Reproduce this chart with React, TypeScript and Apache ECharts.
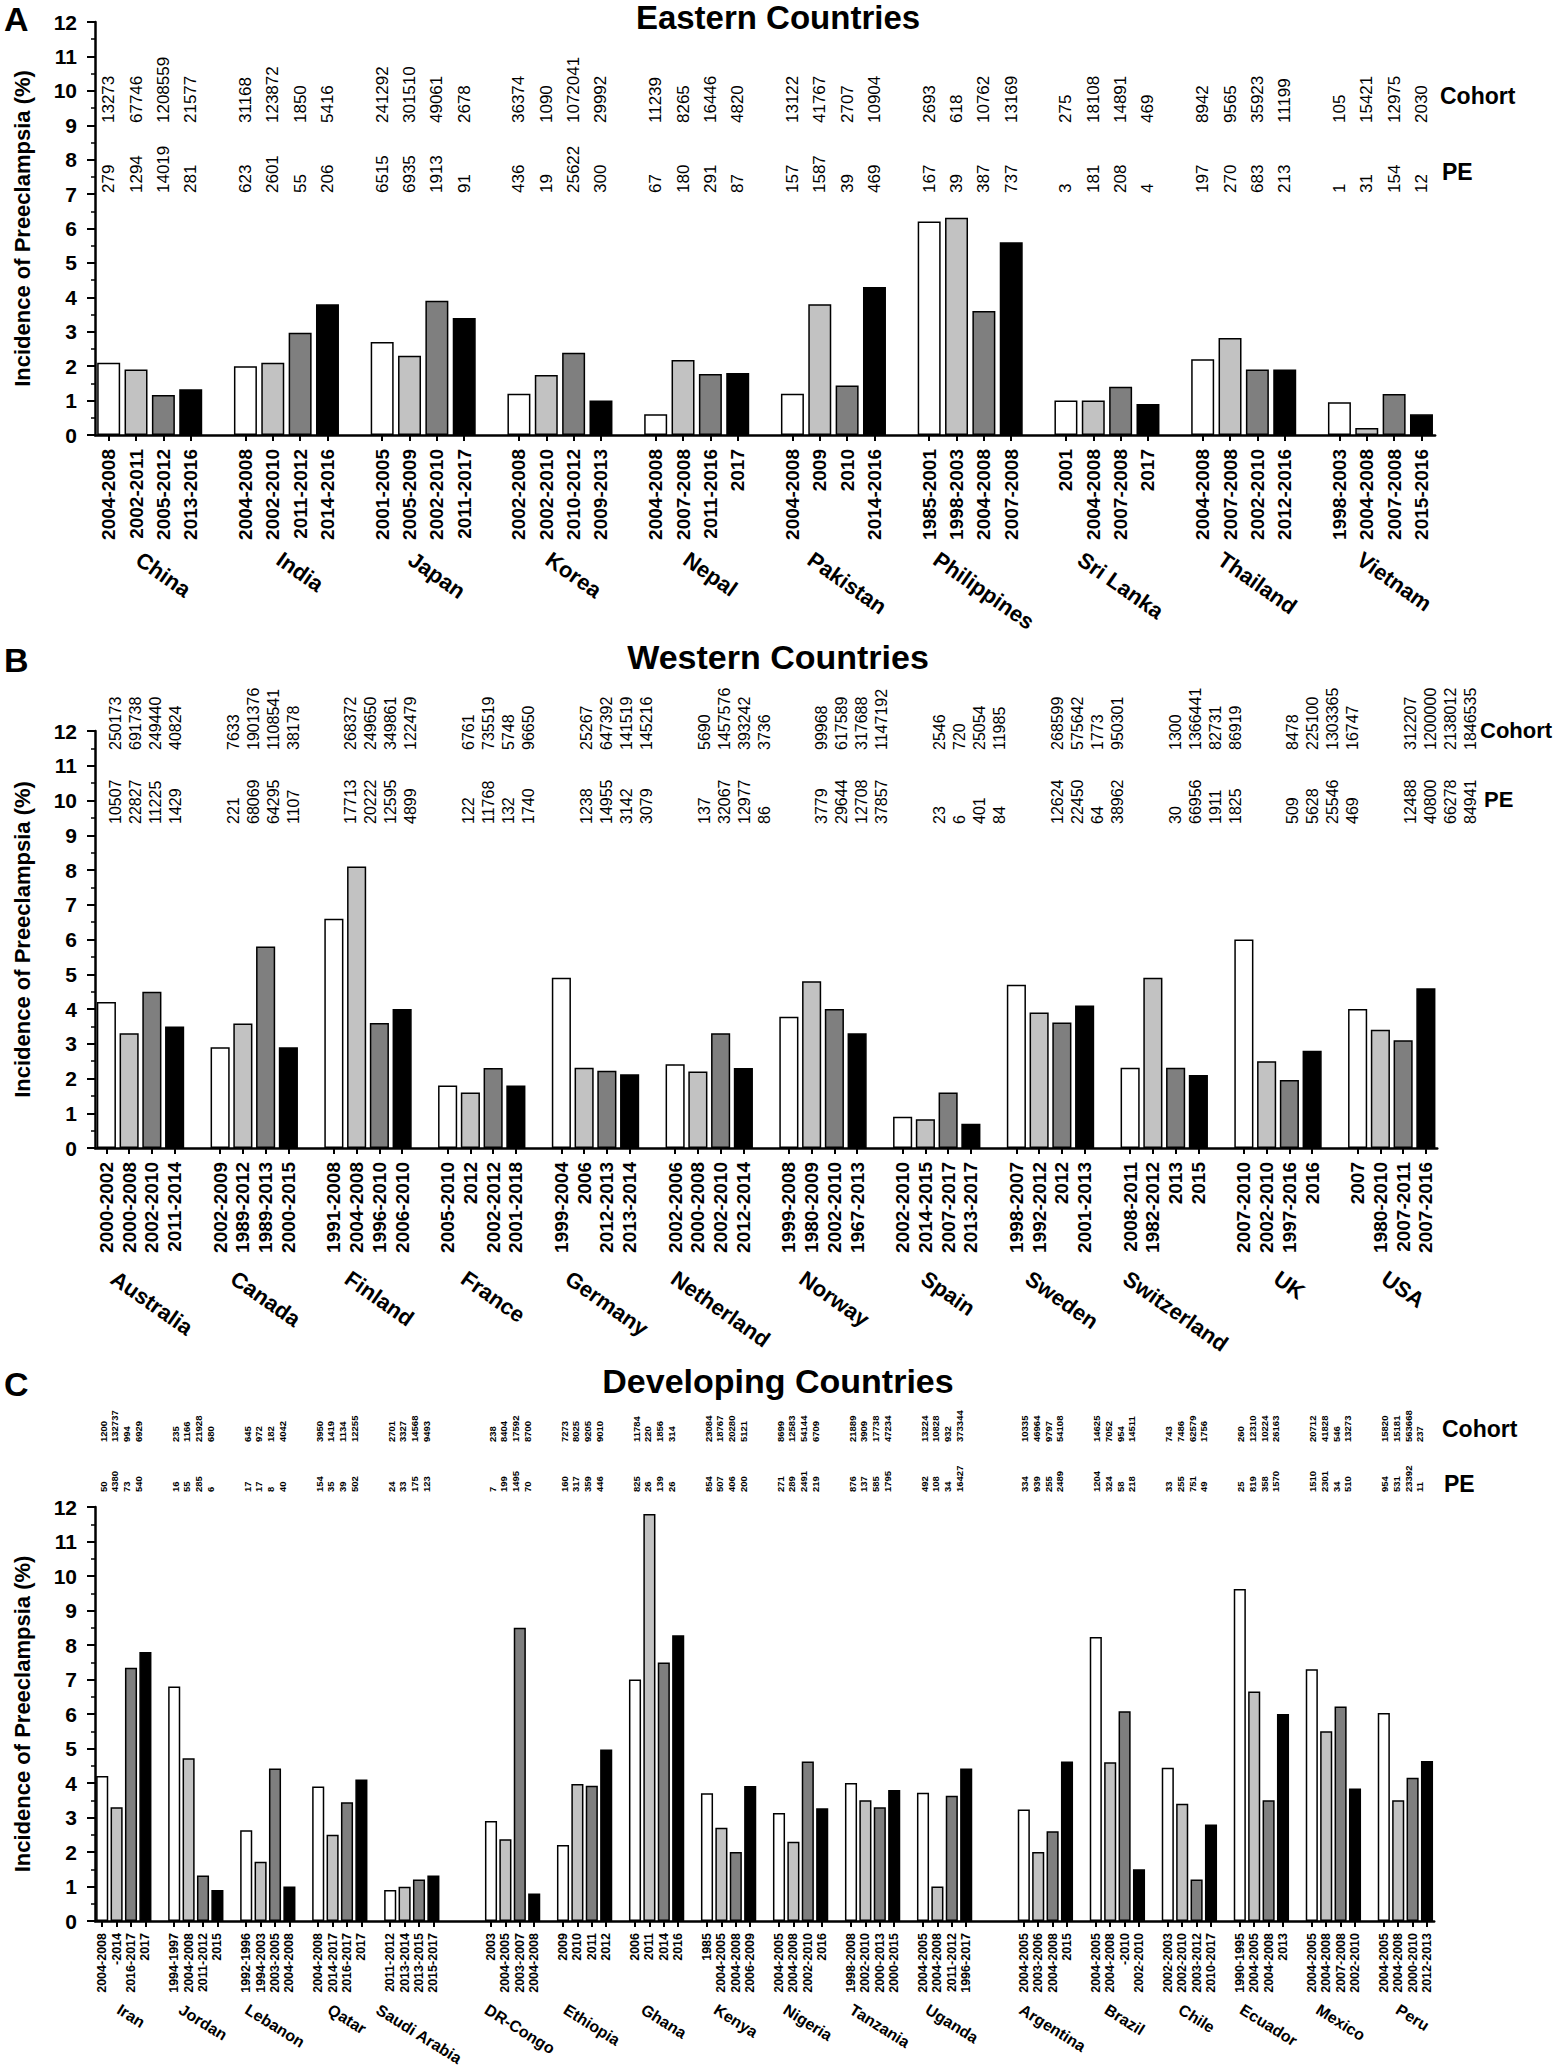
import React, { useEffect, useRef } from "react";
import * as echarts from "echarts";

const FONT = "'Liberation Sans', Arial, Helvetica, sans-serif";

// ---------------- Panel A: Eastern countries ----------------
const eastCountries = ["China", "India", "Japan", "Korea", "Nepal", "Pakistan", "Philippines", "Sri Lanka", "Thailand", "Vietnam"];
const eastPeriods = [
  ["2004-2008", "2002-2011", "2005-2012", "2013-2016"],
  ["2004-2008", "2002-2010", "2011-2012", "2014-2016"],
  ["2001-2005", "2005-2009", "2002-2010", "2011-2017"],
  ["2002-2008", "2002-2010", "2010-2012", "2009-2013"],
  ["2004-2008", "2007-2008", "2011-2016", "2017"],
  ["2004-2008", "2009", "2010", "2014-2016"],
  ["1985-2001", "1998-2003", "2004-2008", "2007-2008"],
  ["2001", "2004-2008", "2007-2008", "2017"],
  ["2004-2008", "2007-2008", "2002-2010", "2012-2016"],
  ["1998-2003", "2004-2008", "2007-2008", "2015-2016"],
];
const eastIncidence = [
  [2.1, 1.9, 1.16, 1.33],
  [2.0, 2.1, 2.97, 3.8],
  [2.7, 2.3, 3.9, 3.4],
  [1.2, 1.74, 2.39, 1.0],
  [0.6, 2.18, 1.77, 1.8],
  [1.2, 3.8, 1.44, 4.3],
  [6.2, 6.31, 3.6, 5.6],
  [1.0, 1.0, 1.4, 0.9],
  [2.2, 2.82, 1.9, 1.9],
  [0.95, 0.2, 1.19, 0.6],
];
const eastCohort = [
  [13273, 67746, 1208559, 21577],
  [31168, 123872, 1850, 5416],
  [241292, 301510, 49061, 2678],
  [36374, 1090, 1072041, 29992],
  [11239, 8265, 16446, 4820],
  [13122, 41767, 2707, 10904],
  [2693, 618, 10762, 13169],
  [275, 18108, 14891, 469],
  [8942, 9565, 35923, 11199],
  [105, 15421, 12975, 2030],
];
const eastPE = [
  [279, 1294, 14019, 281],
  [623, 2601, 55, 206],
  [6515, 6935, 1913, 91],
  [436, 19, 25622, 300],
  [67, 180, 291, 87],
  [157, 1587, 39, 469],
  [167, 39, 387, 737],
  [3, 181, 208, 4],
  [197, 270, 683, 213],
  [1, 31, 154, 12],
];

// ---------------- Panel B: Western countries ----------------
const westCountries = ["Australia", "Canada", "Finland", "France", "Germany", "Netherland", "Norway", "Spain", "Sweden", "Switzerland", "UK", "USA"];
const westPeriods = [
  ["2000-2002", "2000-2008", "2002-2010", "2011-2014"],
  ["2002-2009", "1989-2012", "1989-2013", "2000-2015"],
  ["1991-2008", "2004-2008", "1996-2010", "2006-2010"],
  ["2005-2010", "2012", "2002-2012", "2001-2018"],
  ["1999-2004", "2006", "2012-2013", "2013-2014"],
  ["2002-2006", "2000-2008", "2002-2010", "2012-2014"],
  ["1999-2008", "1980-2009", "2002-2010", "1967-2013"],
  ["2002-2010", "2014-2015", "2007-2017", "2013-2017"],
  ["1998-2007", "1992-2012", "2012", "2001-2013"],
  ["2008-2011", "1982-2012", "2013", "2015"],
  ["2007-2010", "2002-2010", "1997-2016", "2016"],
  ["2007", "1980-2010", "2007-2011", "2007-2016"],
];
const westIncidence = [
  [4.2, 3.3, 4.5, 3.5],
  [2.9, 3.58, 5.8, 2.9],
  [6.6, 8.1, 3.6, 4.0],
  [1.8, 1.6, 2.3, 1.8],
  [4.9, 2.31, 2.22, 2.12],
  [2.41, 2.2, 3.3, 2.3],
  [3.78, 4.8, 4.0, 3.3],
  [0.9, 0.83, 1.6, 0.7],
  [4.7, 3.9, 3.61, 4.1],
  [2.31, 4.9, 2.31, 2.1],
  [6.0, 2.5, 1.96, 2.8],
  [4.0, 3.4, 3.1, 4.6],
];
const westCohort = [
  [250173, 691738, 249440, 40824],
  [7633, 1901376, 1108541, 38178],
  [268372, 249650, 349861, 122479],
  [6761, 735519, 5748, 96650],
  [25267, 647392, 141519, 145216],
  [5690, 1457576, 393242, 3736],
  [99968, 617589, 317688, 1147192],
  [2546, 720, 25054, 11985],
  [268599, 575642, 1773, 950301],
  [1300, 1366441, 82731, 86919],
  [8478, 225100, 1303365, 16747],
  [312207, 1200000, 2138012, 1846535],
];
const westPE = [
  [10507, 22827, 11225, 1429],
  [221, 68069, 64295, 1107],
  [17713, 20222, 12595, 4899],
  [122, 11768, 132, 1740],
  [1238, 14955, 3142, 3079],
  [137, 32067, 12977, 86],
  [3779, 29644, 12708, 37857],
  [23, 6, 401, 84],
  [12624, 22450, 64, 38962],
  [30, 66956, 1911, 1825],
  [509, 5628, 25546, 469],
  [12488, 40800, 66278, 84941],
];

// ---------------- Panel C: Developing countries ----------------
const devCountries = ["Iran", "Jordan", "Lebanon", "Qatar", "Saudi Arabia", "DR-Congo", "Ethiopia", "Ghana", "Kenya", "Nigeria", "Tanzania", "Uganda", "Argentina", "Brazil", "Chile", "Ecuador", "Mexico", "Peru"];
const devPeriods = [
  ["2004-2008", "-2014", "2016-2017", "2017"],
  ["1994-1997", "2004-2008", "2011-2012", "2015"],
  ["1992-1996", "1994-2003", "2003-2005", "2004-2008"],
  ["2004-2008", "2014-2017", "2016-2017", "2017"],
  ["2011-2012", "2013-2014", "2013-2015", "2015-2017"],
  ["2003", "2004-2005", "2003-2007", "2004-2008"],
  ["2009", "2010", "2011", "2012"],
  ["2006", "2011", "2014", "2016"],
  ["1985", "2004-2005", "2004-2008", "2006-2009"],
  ["2004-2005", "2004-2008", "2002-2010", "2016"],
  ["1998-2008", "2002-2010", "2000-2013", "2000-2015"],
  ["2004-2005", "2004-2008", "2011-2012", "1996-2017"],
  ["2004-2005", "2003-2006", "2004-2008", "2015"],
  ["2004-2005", "2004-2008", "-2010", "2002-2010"],
  ["2002-2003", "2002-2010", "2003-2012", "2010-2017"],
  ["1990-1995", "2004-2005", "2004-2008", "2013"],
  ["2004-2005", "2004-2008", "2007-2008", "2002-2010"],
  ["2004-2005", "2004-2008", "2000-2010", "2012-2013"],
];
const devIncidence = [
  [4.2, 3.3, 7.34, 7.8],
  [6.8, 4.72, 1.32, 0.9],
  [2.63, 1.72, 4.42, 1.0],
  [3.9, 2.5, 3.44, 4.1],
  [0.9, 0.99, 1.2, 1.32],
  [2.9, 2.37, 8.5, 0.8],
  [2.2, 3.97, 3.92, 4.97],
  [7.0, 11.8, 7.49, 8.28],
  [3.7, 2.7, 2.0, 3.91],
  [3.13, 2.3, 4.62, 3.27],
  [4.0, 3.5, 3.3, 3.8],
  [3.72, 1.0, 3.63, 4.42],
  [3.23, 2.0, 2.6, 4.62],
  [8.23, 4.6, 6.08, 1.5],
  [4.44, 3.4, 1.2, 2.8],
  [9.62, 6.65, 3.5, 6.0],
  [7.3, 5.5, 6.22, 3.84],
  [6.03, 3.5, 4.15, 4.64],
];
const devCohort = [
  [1200, 132737, 994, 6929],
  [235, 1166, 21928, 680],
  [645, 972, 182, 4042],
  [3950, 1419, 1134, 12255],
  [2701, 3327, 14568, 9493],
  [238, 8404, 17592, 8700],
  [7273, 8025, 9205, 9010],
  [11784, 220, 1856, 314],
  [23084, 18767, 20280, 5121],
  [8699, 12583, 54144, 6709],
  [21889, 3909, 17738, 47234],
  [13224, 10828, 932, 373344],
  [10335, 46964, 9797, 54108],
  [14625, 7052, 954, 14511],
  [743, 7486, 62579, 1756],
  [260, 12310, 10224, 26163],
  [20712, 41828, 546, 13273],
  [15820, 15181, 563668, 237],
];
const devPE = [
  [50, 4380, 73, 540],
  [16, 55, 285, 6],
  [17, 17, 8, 40],
  [154, 35, 39, 502],
  [24, 33, 175, 123],
  [7, 199, 1495, 70],
  [160, 317, 359, 446],
  [825, 26, 139, 26],
  [854, 507, 406, 200],
  [271, 289, 2491, 219],
  [876, 137, 585, 1795],
  [492, 108, 34, 16427],
  [334, 939, 255, 2489],
  [1204, 324, 58, 218],
  [33, 255, 751, 49],
  [25, 819, 358, 1570],
  [1510, 2301, 34, 510],
  [954, 531, 23392, 11],
];

const BAR_COLORS = ["#ffffff", "#c2c2c2", "#7f7f7f", "#000000"];
const Y_NAME = "Incidence of Preeclampsia (%)";

type Slot = { g: number; b: number } | null;

function buildSlots(n: number, extra: Record<number, number>) {
  const slots: Slot[] = [];
  const starts: number[] = [];
  for (let g = 0; g < n; g++) {
    starts.push(slots.length);
    for (let b = 0; b < 4; b++) slots.push({ g, b });
    if (g < n - 1) {
      const k = 1 + (extra[g] || 0);
      for (let i = 0; i < k; i++) slots.push(null);
    }
  }
  return { slots, starts };
}

const panels = [
  {
    letter: "A", title: "Eastern Countries",
    countries: eastCountries, periods: eastPeriods, values: eastIncidence, cohort: eastCohort, pe: eastPE,
    extra: {} as Record<number, number>,
    slotW: 27.35, top: 22, height: 413,
    yearFont: 19, yearMargin: 14,
    numFont: 17, numWeight: "normal", numMode: "bar", cohortY: 123, peY: 193,
    countryFont: 22, countryTop: 549, countryAngle: 35,
    letterY: 2, titleY: 17, titleSize: 33, labelSize: 23, cohortLabel: [1440, 96], peLabel: [1442, 172],
  },
  {
    letter: "B", title: "Western Countries",
    countries: westCountries, periods: westPeriods, values: westIncidence, cohort: westCohort, pe: westPE,
    extra: {} as Record<number, number>,
    slotW: 22.75, top: 731, height: 417,
    yearFont: 19, yearMargin: 14,
    numFont: 16, numWeight: "normal", numMode: "spread", cohortY: 750, peY: 824,
    countryFont: 22, countryTop: 1268, countryAngle: 35,
    letterY: 643, titleY: 657, titleSize: 34, labelSize: 22, cohortLabel: [1480, 730], peLabel: [1484, 799],
  },
  {
    letter: "C", title: "Developing Countries",
    countries: devCountries, periods: devPeriods, values: devIncidence, cohort: devCohort, pe: devPE,
    extra: { 4: 2, 11: 2 } as Record<number, number>,
    slotW: 14.4, top: 1507, height: 414,
    yearFont: 12.5, yearMargin: 12,
    numFont: 9.5, numWeight: "bold", numMode: "tight", cohortY: 1442, peY: 1492,
    countryFont: 16, countryTop: 2002, countryAngle: 32,
    letterY: 1367, titleY: 1381, titleSize: 34, labelSize: 23, cohortLabel: [1442, 1429], peLabel: [1444, 1484],
  },
];

function measure(text: string, size: number, weight: string) {
  const c = document.createElement("canvas").getContext("2d");
  if (!c) return text.length * size * 0.6;
  c.font = `${weight} ${size}px 'Liberation Sans', Arial, sans-serif`;
  return c.measureText(text).width;
}

export default function App() {
  const ref = useRef<HTMLDivElement>(null);

  useEffect(() => {
    if (!ref.current) return;
    const chart = echarts.init(ref.current, null, { renderer: "svg" });
    const built = panels.map((P) => buildSlots(P.countries.length, P.extra));

    const grids: any[] = [];
    const xAxes: any[] = [];
    const yAxes: any[] = [];
    const series: any[] = [];

    panels.forEach((P, p) => {
      const { slots } = built[p];
      grids.push({ left: 95, top: P.top, width: slots.length * P.slotW, height: P.height, containLabel: false });
      xAxes.push({
        type: "category",
        gridIndex: p,
        data: slots.map((s) => (s ? P.periods[s.g][s.b] : "")),
        axisLine: { show: true, lineStyle: { color: "#000", width: 2.5 } },
        axisTick: {
          show: true,
          alignWithLabel: true,
          interval: (i: number) => slots[i] !== null,
          length: 6,
          lineStyle: { color: "#000", width: 2 },
        },
        axisLabel: {
          interval: 0,
          rotate: 90,
          margin: P.yearMargin,
          fontSize: P.yearFont,
          fontWeight: "bold",
          color: "#000",
          fontFamily: FONT,
        },
        splitLine: { show: false },
      });
      yAxes.push({
        type: "value",
        gridIndex: p,
        min: 0,
        max: 12,
        interval: 1,
        axisLine: { show: true, lineStyle: { color: "#000", width: 2.5 } },
        axisTick: { show: true, length: 8, lineStyle: { color: "#000", width: 2 } },
        minorTick: { show: true, splitNumber: 2, length: 4, lineStyle: { color: "#000", width: 1.5 } },
        splitLine: { show: false },
        minorSplitLine: { show: false },
        axisLabel: { fontSize: 21, fontWeight: "bold", color: "#000", margin: 18, fontFamily: FONT },
        name: Y_NAME,
        nameLocation: "middle",
        nameGap: 62,
        nameTextStyle: { fontSize: 22, fontWeight: "bold", color: "#000", fontFamily: FONT },
      });
      series.push({
        type: "bar",
        xAxisIndex: p,
        yAxisIndex: p,
        barCategoryGap: "16%",
        silent: true,
        itemStyle: { borderColor: "#000", borderWidth: 1.5 },
        data: slots.map((s) =>
          s ? { value: P.values[s.g][s.b], itemStyle: { color: BAR_COLORS[s.b] } } : "-"
        ),
      });
    });

    chart.setOption({
      animation: false,
      backgroundColor: "#fff",
      textStyle: { fontFamily: FONT },
      grid: grids,
      xAxis: xAxes,
      yAxis: yAxes,
      series,
    });

    const graphics: any[] = [];
    const txt = (text: string, x: number, y: number, size: number, weight: string, align: string, valign: string, rotation = 0) => ({
      type: "text",
      x,
      y,
      rotation,
      silent: true,
      style: {
        text,
        fill: "#000",
        fontSize: size,
        fontWeight: weight,
        fontFamily: FONT,
        align,
        textAlign: align,
        verticalAlign: valign,
        textVerticalAlign: valign,
      },
    });

    panels.forEach((P, p) => {
      const { starts } = built[p];
      const ANG = (P.countryAngle * Math.PI) / 180;
      const px = (idx: number) => chart.convertToPixel({ xAxisIndex: p } as any, idx) as number;

      graphics.push(txt(P.letter, 4, P.letterY, 34, "bold", "left", "top"));
      graphics.push(txt(P.title, 778, P.titleY, P.titleSize, "bold", "center", "middle"));
      graphics.push(txt("Cohort", P.cohortLabel[0], P.cohortLabel[1], P.labelSize, "bold", "left", "middle"));
      graphics.push(txt("PE", P.peLabel[0], P.peLabel[1], P.labelSize, "bold", "left", "middle"));

      starts.forEach((st, g) => {
        for (let b = 0; b < 4; b++) {
          let x: number;
          if (P.numMode === "bar") x = px(st + b);
          else if (P.numMode === "spread") x = px(st) + 9 + 4 * g + 20 * b;
          else x = px(st) + 1 + 11.7 * b;
          graphics.push(txt(String(P.cohort[g][b]), x, P.cohortY, P.numFont, P.numWeight, "left", "middle", Math.PI / 2));
          graphics.push(txt(String(P.pe[g][b]), x, P.peY, P.numFont, P.numWeight, "left", "middle", Math.PI / 2));
        }
        // country label, centred on the 5-slot group, rotated clockwise
        const name = P.countries[g];
        const w = measure(name, P.countryFont, "bold");
        const h = P.countryFont * 0.9;
        const cx = px(st + 2);
        const cy = P.countryTop + (w * Math.sin(ANG) + h * Math.cos(ANG)) / 2;
        graphics.push(txt(name, cx, cy, P.countryFont, "bold", "center", "middle", -ANG));
      });
    });

    chart.setOption({ graphic: graphics });

    return () => chart.dispose();
  }, []);

  return (
    <div
      ref={ref}
      style={{ position: "absolute", left: 0, top: 0, width: 1557, height: 2070, background: "#fff" }}
    />
  );
}
